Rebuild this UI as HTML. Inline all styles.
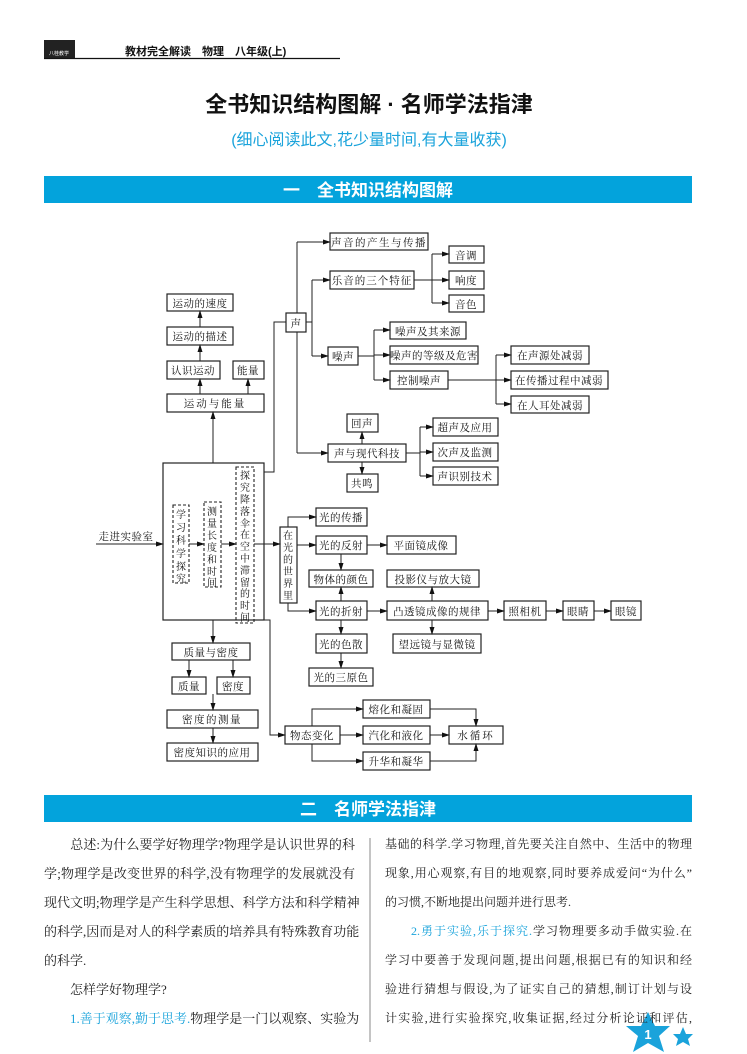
<!DOCTYPE html>
<html><head><meta charset="utf-8"><style>
html,body{margin:0;padding:0;background:#fff}
body{width:747px;height:1054px;position:relative;overflow:hidden;font-family:"Liberation Serif","Noto Serif CJK SC",serif}
.c{position:absolute;width:311px;font-size:13px;line-height:29px;color:#222;font-family:"Liberation Serif","Noto Serif CJK SC",serif}
.c div{height:29px;text-align:justify;text-align-last:justify;white-space:nowrap;overflow:visible}
.c div.s{text-align-last:left}
.b{color:#1aa3db}
</style></head><body>
<svg width="747" height="1054" style="position:absolute;left:0;top:0" xmlns="http://www.w3.org/2000/svg">
<defs><marker id="a" markerWidth="8" markerHeight="6" refX="7" refY="3" orient="auto" markerUnits="userSpaceOnUse"><path d="M0,0.5 L8,3 L0,5.5z" fill="#111"/></marker></defs>
<rect x="44" y="40" width="31" height="19" fill="#222"/>
<text x="59" y="55" font-size="5" fill="#fff" text-anchor="middle" font-family="Noto Sans CJK SC,sans-serif">八桂教学</text>
<text x="125" y="55" font-size="11" font-weight="bold" fill="#111" font-family="Liberation Sans,Noto Sans CJK SC,sans-serif">教材完全解读　物理　八年级(上)</text>
<line x1="44" y1="58.5" x2="340" y2="58.5" stroke="#111" stroke-width="1.2"/>
<text x="369" y="112" font-size="22" font-weight="bold" text-anchor="middle" fill="#111" font-family="Liberation Sans,Noto Sans CJK SC,sans-serif">全书知识结构图解 · 名师学法指津</text>
<text x="369" y="145" font-size="16" text-anchor="middle" fill="#1aa3db" font-family="Liberation Sans,Noto Sans CJK SC,sans-serif">(细心阅读此文,花少量时间,有大量收获)</text>
<rect x="44" y="176" width="648" height="27" fill="#03a3dc"/>
<text x="368" y="196" font-size="17" font-weight="bold" text-anchor="middle" fill="#fff" font-family="Liberation Sans,Noto Sans CJK SC,sans-serif">一　全书知识结构图解</text>
<rect x="44" y="795" width="648" height="27" fill="#03a3dc"/>
<text x="368" y="815" font-size="17" font-weight="bold" text-anchor="middle" fill="#fff" font-family="Liberation Sans,Noto Sans CJK SC,sans-serif">二　名师学法指津</text>
<line x1="370" y1="838" x2="370" y2="1042" stroke="#888" stroke-width="1"/>

<g fill="none" stroke="#222" stroke-width="1.2">
<rect x="330" y="233" width="98" height="17"/><rect x="330" y="271" width="84" height="18"/>
<rect x="449" y="246" width="35" height="17"/><rect x="449" y="271" width="35" height="18"/><rect x="449" y="295" width="35" height="17"/>
<rect x="286" y="313" width="20" height="19"/>
<rect x="328" y="347" width="30" height="18"/>
<rect x="390" y="322" width="76" height="17"/><rect x="390" y="346" width="88" height="18"/><rect x="390" y="371" width="58" height="18"/>
<rect x="511" y="346" width="78" height="18"/><rect x="511" y="371" width="97" height="18"/><rect x="511" y="396" width="78" height="17"/>
<rect x="347" y="414" width="31" height="18"/><rect x="328" y="444" width="78" height="18"/><rect x="347" y="474" width="31" height="18"/>
<rect x="433" y="418" width="65" height="18"/><rect x="433" y="443" width="65" height="18"/><rect x="433" y="467" width="65" height="18"/>
<rect x="167" y="294" width="66" height="17"/><rect x="167" y="327" width="66" height="18"/>
<rect x="167" y="361" width="53" height="18"/><rect x="233" y="361" width="31" height="18"/><rect x="167" y="394" width="97" height="18"/>
<rect x="163" y="463" width="101" height="157"/>
<rect x="280" y="527" width="17" height="76"/>
<rect x="316" y="508" width="51" height="18"/><rect x="316" y="536" width="51" height="18"/><rect x="387" y="536" width="69" height="18"/>
<rect x="309" y="570" width="64" height="17"/><rect x="387" y="570" width="92" height="17"/>
<rect x="316" y="601" width="51" height="19"/><rect x="387" y="601" width="101" height="19"/>
<rect x="504" y="601" width="42" height="19"/><rect x="563" y="601" width="31" height="19"/><rect x="611" y="601" width="30" height="19"/>
<rect x="393" y="634" width="88" height="19"/><rect x="316" y="634" width="51" height="19"/><rect x="309" y="668" width="64" height="18"/>
<rect x="172" y="643" width="78" height="17"/><rect x="172" y="677" width="34" height="17"/><rect x="217" y="677" width="33" height="17"/>
<rect x="167" y="710" width="91" height="18"/><rect x="167" y="743" width="91" height="18"/>
<rect x="285" y="726" width="55" height="18"/>
<rect x="363" y="700" width="67" height="18"/><rect x="363" y="726" width="67" height="18"/><rect x="363" y="752" width="67" height="18"/>
<rect x="449" y="726" width="54" height="18"/>
</g>
<g fill="none" stroke="#222" stroke-width="1.1" stroke-dasharray="3,2">
<rect x="173" y="505" width="16" height="78"/><rect x="204" y="502" width="17" height="85"/><rect x="236" y="467" width="18" height="156"/>
</g>
<g fill="none" stroke="#222" stroke-width="1">
<polyline points="264,472 274,472 274,322 286,322"/>
<polyline points="297,242 297,313"/><polyline points="297,332 297,453"/>
<line x1="297" y1="242" x2="330" y2="242" marker-end="url(#a)"/>
<line x1="297" y1="453" x2="328" y2="453" marker-end="url(#a)"/>
<polyline points="306,322 312,322"/><polyline points="312,280 312,356"/>
<line x1="312" y1="280" x2="330" y2="280" marker-end="url(#a)"/>
<line x1="312" y1="356" x2="328" y2="356" marker-end="url(#a)"/>
<polyline points="414,280 432,280"/><polyline points="432,254 432,303"/>
<line x1="432" y1="254" x2="449" y2="254" marker-end="url(#a)"/>
<line x1="432" y1="280" x2="449" y2="280" marker-end="url(#a)"/>
<line x1="432" y1="303" x2="449" y2="303" marker-end="url(#a)"/>
<polyline points="358,356 374,356"/><polyline points="374,330 374,380"/>
<line x1="374" y1="330" x2="390" y2="330" marker-end="url(#a)"/>
<line x1="374" y1="355" x2="390" y2="355" marker-end="url(#a)"/>
<line x1="374" y1="380" x2="390" y2="380" marker-end="url(#a)"/>
<polyline points="448,380 496,380"/><polyline points="496,355 496,404"/>
<line x1="496" y1="355" x2="511" y2="355" marker-end="url(#a)"/>
<line x1="496" y1="380" x2="511" y2="380" marker-end="url(#a)"/>
<line x1="496" y1="404" x2="511" y2="404" marker-end="url(#a)"/>
<line x1="362" y1="444" x2="362" y2="432" marker-end="url(#a)"/>
<line x1="362" y1="462" x2="362" y2="474" marker-end="url(#a)"/>
<polyline points="406,453 420,453"/><polyline points="420,427 420,476"/>
<line x1="420" y1="427" x2="433" y2="427" marker-end="url(#a)"/>
<line x1="420" y1="452" x2="433" y2="452" marker-end="url(#a)"/>
<line x1="420" y1="476" x2="433" y2="476" marker-end="url(#a)"/>
<line x1="213" y1="463" x2="213" y2="412" marker-end="url(#a)"/>
<line x1="200" y1="394" x2="200" y2="379" marker-end="url(#a)"/>
<line x1="248" y1="394" x2="248" y2="379" marker-end="url(#a)"/>
<line x1="200" y1="361" x2="200" y2="345" marker-end="url(#a)"/>
<line x1="200" y1="327" x2="200" y2="311" marker-end="url(#a)"/>
<line x1="96" y1="544" x2="163" y2="544" marker-end="url(#a)"/>
<line x1="189" y1="544" x2="204" y2="544" marker-end="url(#a)"/>
<line x1="221" y1="544" x2="236" y2="544" marker-end="url(#a)"/>
<line x1="254" y1="544" x2="280" y2="544" marker-end="url(#a)"/>
<polyline points="288,527 288,517 316,517" marker-end="url(#a)"/>
<line x1="297" y1="545" x2="316" y2="545" marker-end="url(#a)"/>
<polyline points="288,603 288,611 316,611" marker-end="url(#a)"/>
<line x1="367" y1="545" x2="387" y2="545" marker-end="url(#a)"/>
<line x1="341" y1="554" x2="341" y2="570" marker-end="url(#a)"/>
<line x1="341" y1="601" x2="341" y2="587" marker-end="url(#a)"/>
<line x1="367" y1="611" x2="387" y2="611" marker-end="url(#a)"/>
<line x1="432" y1="601" x2="432" y2="587" marker-end="url(#a)"/>
<line x1="432" y1="620" x2="432" y2="634" marker-end="url(#a)"/>
<line x1="488" y1="611" x2="504" y2="611" marker-end="url(#a)"/>
<line x1="546" y1="611" x2="563" y2="611" marker-end="url(#a)"/>
<line x1="594" y1="611" x2="611" y2="611" marker-end="url(#a)"/>
<line x1="341" y1="620" x2="341" y2="634" marker-end="url(#a)"/>
<line x1="341" y1="653" x2="341" y2="668" marker-end="url(#a)"/>
<line x1="213" y1="620" x2="213" y2="643" marker-end="url(#a)"/>
<line x1="189" y1="660" x2="189" y2="677" marker-end="url(#a)"/>
<line x1="233" y1="660" x2="233" y2="677" marker-end="url(#a)"/>
<line x1="213" y1="694" x2="213" y2="710" marker-end="url(#a)"/>
<line x1="213" y1="728" x2="213" y2="743" marker-end="url(#a)"/>
<polyline points="264,620 270,620 270,735 285,735" marker-end="url(#a)"/>
<line x1="340" y1="735" x2="363" y2="735" marker-end="url(#a)"/>
<polyline points="312,726 312,709 363,709" marker-end="url(#a)"/>
<polyline points="312,744 312,761 363,761" marker-end="url(#a)"/>
<polyline points="430,709 476,709 476,726" marker-end="url(#a)"/>
<polyline points="430,761 476,761 476,744" marker-end="url(#a)"/>
<line x1="430" y1="735" x2="449" y2="735" marker-end="url(#a)"/>
</g>
<g font-size="10.5" fill="#111" text-anchor="middle" letter-spacing="0.5" font-family="Liberation Serif,Noto Serif CJK SC,serif">
<text x="379" y="246" letter-spacing="1.5">声音的产生与传播</text><text x="372" y="284" letter-spacing="1">乐音的三个特征</text>
<text x="466" y="259">音调</text><text x="466" y="284">响度</text><text x="466" y="308">音色</text>
<text x="296" y="327">声</text><text x="343" y="360">噪声</text>
<text x="428" y="335">噪声及其来源</text><text x="434" y="359">噪声的等级及危害</text><text x="419" y="384">控制噪声</text>
<text x="550" y="359">在声源处减弱</text><text x="559" y="384">在传播过程中减弱</text><text x="550" y="409">在人耳处减弱</text>
<text x="362" y="427">回声</text><text x="367" y="457">声与现代科技</text><text x="362" y="487">共鸣</text>
<text x="465" y="431">超声及应用</text><text x="465" y="456">次声及监测</text><text x="465" y="480">声识别技术</text>
<text x="200" y="307">运动的速度</text><text x="200" y="340">运动的描述</text>
<text x="193" y="374">认识运动</text><text x="248" y="374">能量</text><text x="215" y="407" letter-spacing="2">运动与能量</text>
<text x="126" y="540">走进实验室</text>
<text x="341" y="521">光的传播</text><text x="341" y="549">光的反射</text><text x="421" y="549">平面镜成像</text>
<text x="341" y="583">物体的颜色</text><text x="433" y="583">投影仪与放大镜</text>
<text x="341" y="615">光的折射</text><text x="437" y="615">凸透镜成像的规律</text>
<text x="525" y="615">照相机</text><text x="578" y="615">眼睛</text><text x="626" y="615">眼镜</text>
<text x="437" y="648">望远镜与显微镜</text><text x="341" y="648">光的色散</text><text x="341" y="681">光的三原色</text>
<text x="211" y="656">质量与密度</text><text x="189" y="690">质量</text><text x="233" y="690">密度</text>
<text x="212" y="723" letter-spacing="1.5">密度的测量</text><text x="212" y="756">密度知识的应用</text>
<text x="312" y="739">物态变化</text>
<text x="396" y="713">熔化和凝固</text><text x="396" y="739">汽化和液化</text><text x="396" y="765">升华和凝华</text>
<text x="476" y="739" letter-spacing="2">水循环</text>
</g>
<g font-size="10" fill="#111" text-anchor="middle" font-family="Liberation Serif,Noto Serif CJK SC,serif">
<text x="181" y="518">学</text><text x="181" y="531">习</text><text x="181" y="544">科</text><text x="181" y="557">学</text><text x="181" y="570">探</text><text x="181" y="582">究</text>
<text x="212" y="515">测</text><text x="212" y="527">量</text><text x="212" y="539">长</text><text x="212" y="551">度</text><text x="212" y="563">和</text><text x="212" y="575">时</text><text x="212" y="586">间</text>
<text x="245" y="479">探</text><text x="245" y="491">究</text><text x="245" y="503">降</text><text x="245" y="515">落</text><text x="245" y="527">伞</text><text x="245" y="538">在</text><text x="245" y="550">空</text><text x="245" y="562">中</text><text x="245" y="574">滞</text><text x="245" y="586">留</text><text x="245" y="597">的</text><text x="245" y="609">时</text><text x="245" y="621">间</text>
<text x="288" y="539">在</text><text x="288" y="551">光</text><text x="288" y="563">的</text><text x="288" y="575">世</text><text x="288" y="587">界</text><text x="288" y="599">里</text>
</g>
<polygon points="648,1012 655,1026 670,1026 659,1036 664,1052 648,1043 633,1052 638,1036 626,1026 641,1026" fill="#1aa3db"/>
<text x="648" y="1039" font-size="13" font-weight="bold" fill="#fff" text-anchor="middle" font-family="Liberation Sans,sans-serif">1</text>
<polygon points="683,1027 686,1034 693,1034 688,1039 690,1046 683,1042 676,1046 678,1039 673,1034 680,1034" fill="#1aa3db"/>
</svg>
<div class="c" style="left:44px;top:830px">
<div>　　总述:为什么要学好物理学?物理学是认识世界的科</div>
<div>学;物理学是改变世界的科学,没有物理学的发展就没有</div>
<div>现代文明;物理学是产生科学思想、科学方法和科学精神</div>
<div>的科学,因而是对人的科学素质的培养具有特殊教育功能</div>
<div class="s">的科学.</div>
<div class="s">　　怎样学好物理学?</div>
<div>　　<span class="b">1.善于观察,勤于思考.</span>物理学是一门以观察、实验为</div>
</div>
<div class="c" style="left:385px;top:830px;width:307px;font-size:12px">
<div>基础的科学.学习物理,首先要关注自然中、生活中的物理</div>
<div>现象,用心观察,有目的地观察,同时要养成爱问“为什么”</div>
<div class="s">的习惯,不断地提出问题并进行思考.</div>
<div>　　<span class="b">2.勇于实验,乐于探究.</span>学习物理要多动手做实验.在</div>
<div>学习中要善于发现问题,提出问题,根据已有的知识和经</div>
<div>验进行猜想与假设,为了证实自己的猜想,制订计划与设</div>
<div>计实验,进行实验探究,收集证据,经过分析论证和评估,</div>
</div>
</body></html>
